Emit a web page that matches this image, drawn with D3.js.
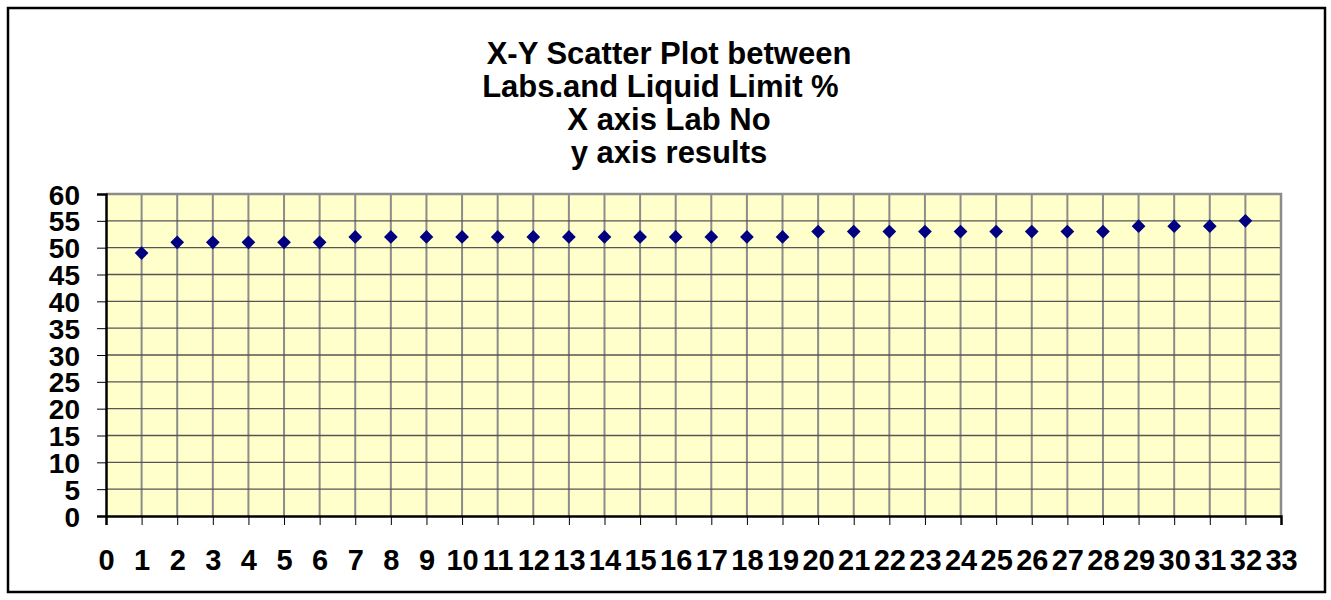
<!DOCTYPE html>
<html>
<head>
<meta charset="utf-8">
<script src="https://cdn.jsdelivr.net/npm/d3@7"></script>
<style>
body { margin: 0; background: #fff; }
text { font-family: "Liberation Sans", Arial, sans-serif; font-weight: bold; fill: #000; }
</style>
</head>
<body>
<svg></svg>
<script>
var labs = [1,2,3,4,5,6,7,8,9,10,11,12,13,14,15,16,17,18,19,20,21,22,23,24,25,26,27,28,29,30,31,32];
var results = [49,51,51,51,51,51,52,52,52,52,52,52,52,52,52,52,52,52,52,53,53,53,53,53,53,53,53,53,54,54,54,55];
var xTicks = d3.range(0, 34);
var yTicks = d3.range(0, 61, 5);
var titleLines = ['X-Y Scatter Plot between', 'Labs.and Liquid Limit %\u00a0\u00a0', 'X axis Lab No', 'y axis results'];

var W = 1331, H = 600;
var svg = d3.select('svg')
    .attr('width', W)
    .attr('height', H);

// outer frame
svg.append('rect')
    .attr('x', 8).attr('y', 8)
    .attr('width', 1317).attr('height', 584)
    .attr('fill', '#fff')
    .attr('stroke', '#000')
    .attr('stroke-width', 2.5)

var pLeft = 106, pRight = 1281, pTop = 194, pBottom = 516;

var x = d3.scaleLinear().domain([0, 33]).range([pLeft, pRight]);
var y = d3.scaleLinear().domain([0, 60]).range([pBottom, pTop]);

// plot background
svg.append('rect')
    .attr('x', pLeft).attr('y', pTop)
    .attr('width', pRight - pLeft).attr('height', pBottom - pTop)
    .attr('fill', '#ffffcc')

// vertical grid
svg.append('g').selectAll('line')
    .data(xTicks.slice(1))
    .enter().append('line')
    .attr('x1', d => x(d)).attr('x2', d => x(d))
    .attr('y1', pTop).attr('y2', pBottom)
    .attr('stroke', '#8c8c8c')
    .attr('stroke-width', 2)

// horizontal grid
svg.append('g').selectAll('line')
    .data(yTicks.slice(1, -1))
    .enter().append('line')
    .attr('x1', pLeft).attr('x2', pRight)
    .attr('y1', d => y(d)).attr('y2', d => y(d))
    .attr('stroke', '#555')
    .attr('stroke-width', 1.3)

// top / right border of plot
svg.append('path')
    .attr('d', 'M' + pLeft + ',' + pTop + 'H' + pRight + 'V' + pBottom)
    .attr('fill', 'none')
    .attr('stroke', '#8c8c8c')
    .attr('stroke-width', 2.5)

// axes
var yAxis = d3.axisLeft(y).tickValues(yTicks).tickSize(9).tickPadding(17);
var xAxis = d3.axisBottom(x).tickValues(xTicks).tickSize(9).tickPadding(24);

var gy = svg.append('g')
    .attr('transform', 'translate(' + pLeft + ',0)')
    .call(yAxis);
var gx = svg.append('g')
    .attr('transform', 'translate(0,' + pBottom + ')')
    .call(xAxis);

gy.select('.domain').attr('stroke', '#000').attr('stroke-width', 2.5);
gx.select('.domain').attr('stroke', '#000').attr('stroke-width', 2.5);
svg.selectAll('.tick line').attr('stroke', '#000').attr('stroke-width', 1);
svg.selectAll('.tick text')
    .attr('font-family', '"Liberation Sans", Arial, sans-serif')
    .attr('font-weight', 'bold');
gx.selectAll('.tick text').attr('font-size', 29);
gy.selectAll('.tick text').attr('font-size', 28).attr('dy', '0.36em');

// points
var diamond = d3.symbol().type(d3.symbolDiamond2).size(120);
svg.append('g').selectAll('path')
    .data(labs)
    .enter().append('path')
    .attr('d', diamond)
    .attr('transform', (d, i) => 'translate(' + x(d) + ',' + y(results[i]) + ')')
    .attr('fill', '#000080')

// title
var title = svg.append('text')
    .attr('x', 669)
    .attr('y', 64)
    .attr('text-anchor', 'middle')
    .attr('font-size', 31)
title.selectAll('tspan')
    .data(titleLines)
    .enter().append('tspan')
    .attr('x', 669)
    .attr('dy', (d, i) => i == 0 ? 0 : 33)
    .text(d => d)
</script>
</body>
</html>
